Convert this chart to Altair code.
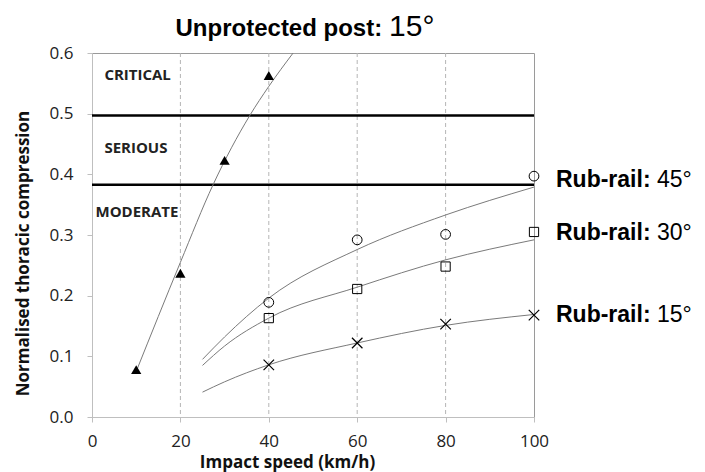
import altair as alt
import pandas as pd

# ---- data ----
# markers
unprot_x = [10, 20, 30, 40]
unprot_y = [0.078, 0.237, 0.423, 0.563]
speeds = [40, 60, 80, 100]
rr45_y = [0.189, 0.292, 0.301, 0.397]
rr30_y = [0.163, 0.211, 0.248, 0.305]
rr15_y = [0.086, 0.122, 0.153, 0.168]

# fitted trend curves
unprot_fit_x = [10, 20, 27.4, 35.7, 40, 45.5]
unprot_fit_y = [0.075, 0.255, 0.383, 0.497, 0.545, 0.600]
rr45_fit_x = [25, 30, 40, 60, 80, 100]
rr45_fit_y = [0.095, 0.132, 0.196, 0.276, 0.333, 0.379]
rr30_fit_x = [25, 30, 40, 60, 80, 100]
rr30_fit_y = [0.085, 0.117, 0.163, 0.214, 0.259, 0.292]
rr15_fit_x = [25, 30, 40, 60, 80, 100]
rr15_fit_y = [0.041, 0.058, 0.086, 0.122, 0.151, 0.169]

# injury thresholds
thresholds = [0.497, 0.383]
zone_names = ["CRITICAL", "SERIOUS", "MODERATE"]
zone_x = [2.8, 2.8, 0.8]
zone_y = [0.563, 0.444, 0.338]

grid_x = [20, 40, 60, 80]

label_names = ["Rub-rail:", "Rub-rail:", "Rub-rail:"]
label_angles = ["45°", "30°", "15°"]
label_y = [0.391, 0.304, 0.168]

title_bold = "Unprotected post:"
title_reg = "15°"

FONT = "Open Sans"
ARIAL = "Liberation Sans"

xs = alt.Scale(domain=[0, 100], nice=False, zero=False)
ys = alt.Scale(domain=[0, 0.6], nice=False)

X = lambda f: alt.X(f, type="quantitative", scale=xs)
Y = lambda f: alt.Y(f, type="quantitative", scale=ys)

# base with axes
axis_df = pd.DataFrame({"x": [0, 100], "y": [0, 0.6]})
base = alt.Chart(axis_df).mark_point(opacity=0).encode(
    x=alt.X("x:Q", scale=xs,
            axis=alt.Axis(title="Impact speed (km/h)", values=[0, 20, 40, 60, 80, 100],
                          grid=False, tickSize=5, tickColor="#bfbfbf", domainColor="#bfbfbf",
                          labelFont=FONT, labelFontSize=17, labelColor="#222", labelPadding=11,
                          labelFlush=False,
                          titleFont=FONT, titleFontSize=17, titleFontWeight="bold",
                          titleColor="#111", titleX=195, titleY=50, titleAlign="center",
                          titleBaseline="alphabetic")),
    y=alt.Y("y:Q", scale=ys,
            axis=alt.Axis(title="Normalised thoracic compression",
                          values=[0, 0.1, 0.2, 0.3, 0.4, 0.5, 0.6], format=".1f",
                          grid=False, tickSize=5, tickColor="#bfbfbf", domainColor="#bfbfbf",
                          labelFont=FONT, labelFontSize=17, labelColor="#222", labelPadding=14,
                          labelFlush=False,
                          titleFont=FONT, titleFontSize=17, titleFontWeight="bold",
                          titleColor="#111", titleAngle=270, titleX=-69, titleY=200,
                          titleAlign="center", titleBaseline="middle")),
)

grid = alt.Chart(pd.DataFrame({"x": grid_x})).mark_rule(
    color="#b5b5b5", strokeDash=[4, 3], strokeWidth=1).encode(x=X("x"))

thr = alt.Chart(pd.DataFrame({"y": thresholds})).mark_rule(
    color="black", strokeWidth=2.5).encode(y=Y("y"))

def curve(xv, yv):
    return alt.Chart(pd.DataFrame({"x": xv, "y": yv})).mark_line(
        color="#7a7a7a", strokeWidth=1, interpolate="monotone").encode(x=X("x"), y=Y("y"))

curves = (curve(unprot_fit_x, unprot_fit_y) + curve(rr45_fit_x, rr45_fit_y)
          + curve(rr30_fit_x, rr30_fit_y) + curve(rr15_fit_x, rr15_fit_y))

tri = alt.Chart(pd.DataFrame({"x": unprot_x, "y": unprot_y})).mark_point(
    shape="triangle-up", filled=True, color="black", size=105, opacity=1).encode(x=X("x"), y=Y("y"))
circ = alt.Chart(pd.DataFrame({"x": speeds, "y": rr45_y})).mark_point(
    shape="circle", filled=False, color="black", size=95, strokeWidth=1, opacity=1).encode(x=X("x"), y=Y("y"))
sq = alt.Chart(pd.DataFrame({"x": speeds, "y": rr30_y})).mark_point(
    shape="square", filled=False, color="black", size=85, strokeWidth=1, opacity=1).encode(x=X("x"), y=Y("y"))
crs = alt.Chart(pd.DataFrame({"x": speeds, "y": rr15_y})).mark_point(
    shape="M-1,-1L1,1M-1,1L1,-1", filled=False, color="black", size=110, strokeWidth=1.2,
    opacity=1).encode(x=X("x"), y=Y("y"))

zones = alt.Chart(pd.DataFrame({"x": zone_x, "y": zone_y, "t": zone_names})).mark_text(
    font=FONT, fontSize=15, fontWeight="bold", color="#222", align="left", baseline="middle"
).encode(x=X("x"), y=Y("y"), text="t:N")

lab_df = pd.DataFrame({"x": [100] * 3, "y": label_y, "a": label_names, "b": label_angles})
lab_bold = alt.Chart(lab_df).mark_text(
    font=ARIAL, fontSize=23, fontWeight="bold", color="black", align="left",
    baseline="middle", dx=22).encode(x=X("x"), y=Y("y"), text="a:N")
lab_reg = alt.Chart(lab_df).mark_text(
    font=ARIAL, fontSize=23, color="black", align="left",
    baseline="middle", dx=123).encode(x=X("x"), y=Y("y"), text="b:N")

title_df = pd.DataFrame({"x": [18.9, 67.2], "y": [0.6276, 0.6276], "t": [title_bold, title_reg]})
t1 = alt.Chart(title_df.iloc[[0]]).mark_text(
    font=ARIAL, fontSize=24, fontWeight="bold", color="black", align="left",
    baseline="alphabetic").encode(x=X("x"), y=Y("y"), text="t:N")
t2 = alt.Chart(title_df.iloc[[1]]).mark_text(
    font=ARIAL, fontSize=30, color="black", align="left",
    baseline="alphabetic").encode(x=X("x"), y=Y("y"), text="t:N")

chart = alt.layer(base, grid, thr, curves, tri, circ, sq, crs, zones, lab_bold, lab_reg, t1, t2).properties(
    width=442, height=364,
    autosize=alt.AutoSizeParams(type="none"),
    padding={"left": 84, "top": 45, "right": 163, "bottom": 62},
).configure_view(stroke="#9a9a9a", strokeWidth=1)

chart.save("out.html", embed_options={"renderer": "svg", "actions": False})
